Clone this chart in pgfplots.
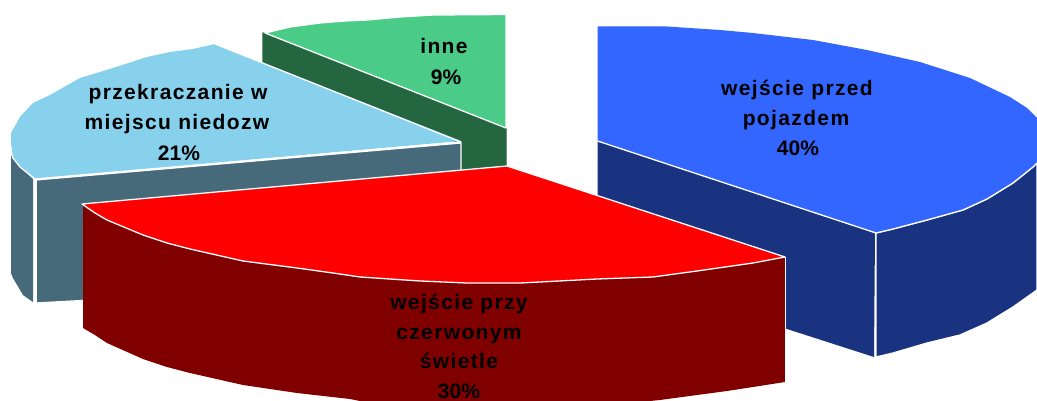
\documentclass[border=0pt]{standalone}
\usepackage{pgfplots}
\pgfplotsset{compat=1.18}
\usepackage{fontspec}
\setmainfont{Liberation Sans}
\newfontfamily\lspfont[LetterSpace=6.5]{Liberation Sans}
\definecolor{gTop}{HTML}{4ACB88}
\definecolor{gSide}{HTML}{236640}
\definecolor{lTop}{HTML}{87D1ED}
\definecolor{lSide}{HTML}{466A7A}
\definecolor{bTop}{HTML}{3366FF}
\definecolor{bSide}{HTML}{1A3380}
\definecolor{rTop}{HTML}{FF0000}
\definecolor{rSide}{HTML}{800000}
\tikzset{lbl/.style={anchor=base, font=\fontsize{21}{21}\selectfont\bfseries, text=black, inner sep=0pt}}
\begin{document}
\begin{tikzpicture}
\useasboundingbox (0,0) rectangle (1037pt,401pt);
\begin{axis}[
  at={(0,0)}, anchor=south west,
  width=1037pt, height=401pt, scale only axis,
  xmin=0, xmax=1037, ymin=0, ymax=401, y dir=reverse,
  hide axis, clip=true,
  every axis plot/.append style={line join=round, no marks, line width=1.3pt},
]
% green slice (inne 9%)
\addplot[fill=gSide, draw=gSide] coordinates {(263,33)(506,128)(506,166)(461,170)(461,144)(263,62)} --cycle;
\addplot[fill=gTop, draw=white] coordinates {(265,33)(290,27)(320,23)(345,21)(367,20)(400,17)(433,15)(506,14.5)(506,128)} --cycle;
% light blue slice (21%)
\addplot[fill=lSide, draw=white] coordinates {(36,180)(461,143)(461,280)(36,303)} --cycle;
\addplot[fill=lSide, draw=none] coordinates {(11,153)(20,167)(33,179)(33,302)(23,295)(13,278)(11,273)} --cycle;
\addplot[fill=lTop, draw=none] coordinates {(215,44)(193,49)(170,52)(147,57)(113,68)(80,78)(50,95)(33,103)(20,117)(11,133)(11,143)(13,158)(20,167)(35,179)(461,141)} --cycle;
\addplot[draw=white] coordinates {(11,153)(13,158)(20,167)(35,179)(461,142)(215,44)};
\addplot[draw=white, line width=3pt] coordinates {(35,180)(35,303)};
% blue slice (40%)
\addplot[fill=bSide, draw=none] coordinates {(597.5,141)(875,233)(874,357)(787,329)(597.5,268)} --cycle;
\addplot[fill=bSide, draw=white] coordinates {(876,233)(893,229)(927,220)(963,210)(987,199)(1013,183)(1033,167)(1037,163)(1037,290)(1013,307)(987,323)(960,335)(927,343)(893,353)(876,357)} --cycle;
\addplot[fill=bTop, draw=none] coordinates {(597.5,26.5)(667,26.5)(720,30)(753,33)(813,40)(867,50)(920,62)(970,78)(1010,97)(1027,108)(1037,118)(1037,163)(1033,167)(1013,183)(987,199)(963,210)(927,220)(893,229)(876,233)(597.5,141)} --cycle;
\addplot[draw=white] coordinates {(597.5,141)(876,233)(893,229)(927,220)(963,210)(987,199)(1013,183)(1033,167)(1037,163)};
% red slice (30%)
\addplot[fill=rSide, draw=none] coordinates {(83,204)(95,213)(107,220)(143,235)(167,243)(190,249)(243,261)(297,268)(333,273)(360,277)(420,281)(467,283)(520,283)(540,282)(597,279)(653,277)(697,271)(753,263)(785,257)(785,382)(753,387)(727,391)(697,395)(660,400)(640,402)(365,402)(350,399)(297,393)(243,385)(190,373)(167,367)(143,359)(107,343)(95,335)(83,328)} --cycle;
\addplot[fill=rTop, draw=white] coordinates {(507,166)(82,204)(95,213)(107,220)(143,235)(167,243)(190,249)(243,261)(297,268)(333,273)(360,277)(420,281)(467,283)(520,283)(540,282)(597,279)(653,277)(697,271)(753,263)(785,257)} --cycle;
\addplot[draw=white] coordinates {(785.5,257)(785.5,382)};
% labels
\node[lbl] at (axis cs:797,96) {\lspfont\bfseries wejście przed};
\node[lbl] at (axis cs:796,125.5) {\lspfont\bfseries pojazdem};
\node[lbl] at (axis cs:798,156) {40\%};
\node[lbl] at (axis cs:444,54) {\lspfont\bfseries inne};
\node[lbl] at (axis cs:446,84.5) {9\%};
\node[lbl] at (axis cs:178,100) {\lspfont\bfseries przekraczanie w};
\node[lbl] at (axis cs:177,130) {\lspfont\bfseries miejscu niedozw};
\node[lbl] at (axis cs:179,160.5) {21\%};
\node[lbl] at (axis cs:459,309) {\lspfont\bfseries wejście przy};
\node[lbl] at (axis cs:459,339) {\lspfont\bfseries czerwonym};
\node[lbl] at (axis cs:459,368) {\lspfont\bfseries świetle};
\node[lbl] at (axis cs:459,398) {30\%};
\end{axis}
\end{tikzpicture}
\end{document}
